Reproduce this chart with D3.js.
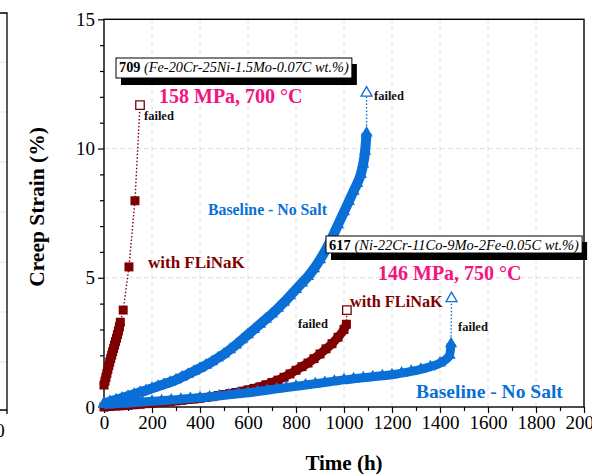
<!DOCTYPE html>
<html>
<head>
<meta charset="utf-8">
<script src="https://cdn.jsdelivr.net/npm/d3@7"></script>
<style>
  body { margin: 0; background: #fff; }
  svg { display: block; font-family: "Liberation Serif", "Times New Roman", serif; }
</style>
</head>
<body>
<div class="graph"></div>
<script>
// ---- data (time in h, creep strain in %) ----
// 709, 158 MPa / 700 C, with FLiNaK
const t709Salt = [0, 4, 8, 12, 16, 20, 24, 28, 32, 36, 40, 44, 48, 52, 56, 60, 64, 68, 80, 104, 129];
const s709Salt = [0.85, 1.0, 1.15, 1.3, 1.45, 1.6, 1.74, 1.88, 2.01, 2.14, 2.27, 2.4, 2.53, 2.66, 2.8, 2.94, 3.1, 3.28, 3.75, 5.42, 7.98];
const fail709Salt = [150, 11.68];

// 709 baseline, no salt
const t709Base = [0, 25, 50, 75, 100, 125, 150, 175, 200, 225, 250, 275, 300, 325, 350, 375, 400, 425, 450, 475, 500,
  525, 550, 575, 600, 625, 650, 675, 700, 725, 750, 775, 800, 825, 850, 875, 900, 925, 950, 975, 1000,
  1020, 1040, 1055, 1070, 1080, 1088, 1094];
const s709Base = [0.15, 0.21, 0.28, 0.35, 0.42, 0.49, 0.57, 0.64, 0.72, 0.8, 0.88, 0.96, 1.05, 1.16, 1.27, 1.38, 1.5, 1.62, 1.75, 1.9, 2.05,
  2.22, 2.4, 2.6, 2.8, 3.0, 3.2, 3.4, 3.6, 3.82, 4.05, 4.3, 4.55, 4.8, 5.05, 5.35, 5.7, 6.1, 6.55, 7.05, 7.55,
  7.95, 8.35, 8.65, 9.0, 9.4, 9.9, 10.6];
const fail709Base = [1094, 12.15];

// 617, 146 MPa / 750 C, with FLiNaK
const t617Salt = [0, 25, 50, 75, 100, 125, 150, 175, 200, 225, 250, 275, 300, 325, 350, 375, 400, 425, 450, 475, 500,
  525, 550, 575, 600, 625, 650, 675, 700, 725, 750, 775, 800, 825, 850, 875, 900, 925, 950, 975, 1000, 1010];
const s617Salt = [0.0, 0.02, 0.04, 0.05, 0.07, 0.09, 0.11, 0.13, 0.15, 0.17, 0.19, 0.21, 0.24, 0.26, 0.29, 0.31, 0.34, 0.37, 0.4, 0.44, 0.48,
  0.52, 0.56, 0.61, 0.66, 0.72, 0.78, 0.86, 0.95, 1.04, 1.15, 1.28, 1.42, 1.56, 1.7, 1.87, 2.05, 2.25, 2.45, 2.7, 3.0, 3.2];
const fail617Salt = [1012, 3.75];

// 617 baseline, no salt
const t617Base = [0, 40, 80, 120, 160, 200, 240, 280, 320, 360, 400, 440, 480, 520, 560, 600, 640, 680, 720, 760, 800,
  840, 880, 920, 960, 1000, 1040, 1080, 1120, 1160, 1200, 1240, 1280, 1320, 1360, 1400, 1440, 1446];
const s617Base = [0.1, 0.12, 0.14, 0.16, 0.19, 0.22, 0.24, 0.27, 0.3, 0.33, 0.36, 0.39, 0.43, 0.47, 0.51, 0.55, 0.6, 0.65, 0.7, 0.75, 0.8,
  0.85, 0.9, 0.95, 1.0, 1.05, 1.09, 1.13, 1.17, 1.21, 1.25, 1.31, 1.38, 1.46, 1.56, 1.7, 2.0, 2.45];
const fail617Base = [1448, 4.2];

const xTicks = [0, 200, 400, 600, 800, 1000, 1200, 1400, 1600, 1800, 2000];
const yTicks = [0, 5, 10, 15];

const blue = '#0a6fd6';
const red = '#7f0000';
const pink = '#f5137f';

const W = 592, H = 475;
const svg = d3.select('.graph').append('svg').attr('width', W).attr('height', H);

const xScale = d3.scaleLinear().domain([0, 2000]).range([104, 584]);
const yScale = d3.scaleLinear().domain([0, 15]).range([407, 19.3]);

// leftover edge of the neighbouring panel
const stub = svg.append('g');
[62, 112, 162, 212, 262, 312, 362].forEach(gy => {
    stub.append('line').attr('x1', 0).attr('x2', 7).attr('y1', gy).attr('y2', gy)
        .attr('stroke', '#e2e2e2').attr('stroke-width', 1);
});
stub.append('path').attr('d', 'M0,13H7V410H0M7,410V414').attr('fill', 'none').attr('stroke', '#000').attr('stroke-width', 1.3);
stub.append('text').attr('x', 0).attr('y', 437).attr('text-anchor', 'middle').attr('font-size', 19).text('0');

// grid
const grid = svg.append('g');
xTicks.slice(1, -1).forEach(t => {
    grid.append('line').attr('x1', xScale(t)).attr('x2', xScale(t)).attr('y1', yScale(0)).attr('y2', yScale(15))
        .attr('stroke', '#dedede').attr('stroke-dasharray', '5,3');
});
yTicks.slice(1, -1).forEach(v => {
    grid.append('line').attr('x1', xScale(0)).attr('x2', xScale(2000)).attr('y1', yScale(v)).attr('y2', yScale(v))
        .attr('stroke', '#dedede').attr('stroke-dasharray', '5,3');
});

// axes
const xAxis = d3.axisBottom(xScale).tickValues(xTicks).tickSize(6).tickPadding(3).tickFormat(d3.format('d'));
const xMinor = d3.axisBottom(xScale).tickValues(d3.range(100, 2000, 200)).tickSize(4).tickFormat('');
const yAxis = d3.axisLeft(yScale).tickValues(yTicks).tickSize(6).tickPadding(3);
const yMinor = d3.axisLeft(yScale).tickValues([1, 2, 3, 4, 6, 7, 8, 9, 11, 12, 13, 14]).tickSize(4).tickFormat('');

const styleAxis = g => {
    g.select('.domain').remove();
    g.selectAll('line').attr('stroke', '#000').attr('stroke-width', 1.2);
    g.selectAll('text').attr('font-family', '"Liberation Serif", serif').attr('font-size', 19).attr('fill', '#000');
};
svg.append('g').attr('transform', `translate(0,${yScale(0)})`).call(xAxis).call(styleAxis);
svg.append('g').attr('transform', `translate(0,${yScale(0)})`).call(xMinor).call(styleAxis);
svg.append('g').attr('transform', `translate(${xScale(0)},0)`).call(yAxis).call(styleAxis);
svg.append('g').attr('transform', `translate(${xScale(0)},0)`).call(yMinor).call(styleAxis);

svg.append('rect').attr('x', xScale(0)).attr('y', yScale(15))
    .attr('width', xScale(2000) - xScale(0)).attr('height', yScale(0) - yScale(15))
    .attr('fill', 'none').attr('stroke', '#000').attr('stroke-width', 1.4);

// series
const line = d3.line().x(d => xScale(d[0])).y(d => yScale(d[1])).curve(d3.curveMonotoneX);
const pairs = (ts, ss) => ts.map((t, i) => [t, ss[i]]);

const drawSeries = (pts, color, shape, size, band) => {
    svg.append('path').datum(pts).attr('d', line).attr('fill', 'none')
        .attr('stroke', color).attr('stroke-width', band).attr('stroke-linejoin', 'round');
    svg.append('g').selectAll('path').data(pts).join('path')
        .attr('transform', d => `translate(${xScale(d[0])},${yScale(d[1])})`)
        .attr('d', d3.symbol().type(shape).size(size))
        .attr('fill', color);
};

const drawFail = (last, fail, color, shape, size) => {
    svg.append('line')
        .attr('x1', xScale(last[0])).attr('y1', yScale(last[1]))
        .attr('x2', xScale(fail[0])).attr('y2', yScale(fail[1]))
        .attr('stroke', color).attr('stroke-width', 1.4).attr('stroke-dasharray', '1.5,2');
    svg.append('path')
        .attr('transform', `translate(${xScale(fail[0])},${yScale(fail[1])})`)
        .attr('d', d3.symbol().type(shape).size(size))
        .attr('fill', '#fff').attr('stroke', color).attr('stroke-width', 1.3);
};

const p709Salt = pairs(t709Salt, s709Salt);
const p709Base = pairs(t709Base, s709Base);
const p617Salt = pairs(t617Salt, s617Salt);
const p617Base = pairs(t617Base, s617Base);

// 709 with salt: dense part + sparse squares joined by a dotted line
svg.append('path').datum(p709Salt).attr('d', d3.line().x(d => xScale(d[0])).y(d => yScale(d[1])))
    .attr('fill', 'none').attr('stroke', red).attr('stroke-width', 1.4).attr('stroke-dasharray', '1.5,2');
drawSeries(p709Salt.slice(0, 18), red, d3.symbolSquare, 81, 9);
drawSeries(p709Salt.slice(18), red, d3.symbolSquare, 81, 0);
drawFail(p709Salt[p709Salt.length - 1], fail709Salt, red, d3.symbolSquare, 72);

drawSeries(p617Salt, red, d3.symbolSquare, 81, 9);
drawFail(p617Salt[p617Salt.length - 1], fail617Salt, red, d3.symbolSquare, 72);

drawSeries(p617Base, blue, d3.symbolTriangle, 64, 9);
drawFail(p617Base[p617Base.length - 1], fail617Base, blue, d3.symbolTriangle, 52);

drawSeries(p709Base, blue, d3.symbolTriangle, 64, 10);
drawFail(p709Base[p709Base.length - 1], fail709Base, blue, d3.symbolTriangle, 52);

// annotations
const label = (txt, px, py, size, color) =>
    svg.append('text').attr('x', px).attr('y', py).attr('font-size', size)
        .attr('font-weight', 'bold').attr('fill', color).text(txt);

const alloyBox = (num, comp, px, py, size, h, dy) => {
    const g = svg.append('g');
    const shadow = g.append('rect');
    const box = g.append('rect');
    const t = g.append('text').attr('x', px).attr('y', py).attr('font-size', size).attr('fill', '#000');
    t.append('tspan').attr('font-weight', 'bold').text(num + ' ');
    t.append('tspan').attr('font-style', 'italic').text(comp);
    const bb = t.node().getBBox();
    const top = py - h + dy;
    box.attr('x', bb.x - 3).attr('y', top).attr('width', bb.width + 6).attr('height', h)
        .attr('fill', '#fff').attr('stroke', '#000').attr('stroke-width', 1);
    shadow.attr('x', bb.x + 2).attr('y', top + 6).attr('width', bb.width + 6).attr('height', h + 1).attr('fill', '#000');
};

alloyBox('709', '(Fe-20Cr-25Ni-1.5Mo-0.07C wt.%)', 119, 72, 14.3, 20, 6);
alloyBox('617', '(Ni-22Cr-11Co-9Mo-2Fe-0.05C wt.%)', 329, 250, 14.5, 17, 3);

label('158 MPa, 700 °C', 159, 103, 20, pink);
label('146 MPa, 750 °C', 378, 280, 20, pink);

label('Baseline - No Salt', 208, 215, 15.8, blue);
label('Baseline - No Salt', 416, 398, 19.5, blue);
label('with FLiNaK', 148, 268, 17, red);
label('with FLiNaK', 350, 307, 16.3, red);

label('failed', 144, 120, 12.5, '#111');
label('failed', 374, 100, 12.5, '#111');
label('failed', 298, 328, 12.5, '#111');
label('failed', 458, 331, 12.5, '#111');

// axis titles
svg.append('text').attr('x', 344).attr('y', 470).attr('text-anchor', 'middle')
    .attr('font-size', 21).attr('font-weight', 'bold').text('Time (h)');
svg.append('text').attr('transform', 'translate(44,207) rotate(-90)').attr('text-anchor', 'middle')
    .attr('font-size', 21.5).attr('font-weight', 'bold').text('Creep Strain (%)');
</script>
</body>
</html>
